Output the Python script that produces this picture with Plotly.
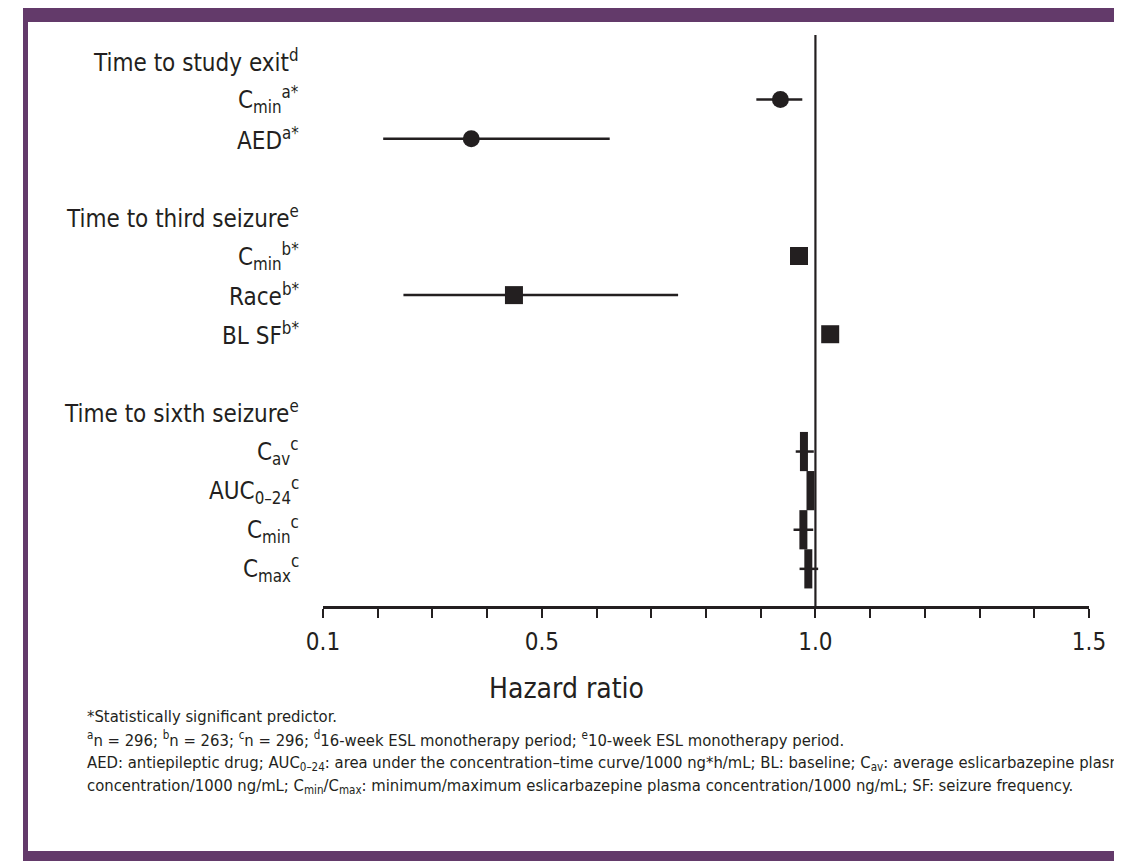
import plotly.graph_objects as go

# ---------------- data ----------------
row_labels = [
    "Time to study exit<sup>d</sup>",
    "C<sub>min</sub><sup>a*</sup>",
    "AED<sup>a*</sup>",
    "",
    "Time to third seizure<sup>e</sup>",
    "C<sub>min</sub><sup>b*</sup>",
    "Race<sup>b*</sup>",
    "BL SF<sup>b*</sup>",
    "",
    "Time to sixth seizure<sup>e</sup>",
    "C<sub>av</sub><sup>c</sup>",
    "AUC<sub>0–24</sub><sup>c</sup>",
    "C<sub>min</sub><sup>c</sup>",
    "C<sub>max</sub><sup>c</sup>",
]
header_rows = [0, 4, 9]

# Time to study exit (circles)
exit_rows = [1, 2]
exit_hr = [0.936, 0.371]
exit_lo = [0.892, 0.210]
exit_hi = [0.976, 0.624]

# Time to third seizure (squares)
third_rows = [5, 6, 7]
third_hr = [0.970, 0.449, 1.027]
third_lo = [0.962, 0.247, 1.019]
third_hi = [0.978, 0.749, 1.035]

# Time to sixth seizure (narrow bars)
sixth_rows = [10, 11, 12, 13]
sixth_hr = [0.979, 0.991, 0.978, 0.987]
sixth_lo = [0.964, 0.985, 0.960, 0.971]
sixth_hi = [0.997, 0.997, 0.996, 1.005]

reference_hr = 1.0
tick_vals = [0.1, 0.2, 0.3, 0.4, 0.5, 0.6, 0.7, 0.8, 0.9, 1.0, 1.1, 1.2, 1.3, 1.4, 1.5]
tick_text = ["0.1", "", "", "", "0.5", "", "", "", "", "1.0", "", "", "", "", "1.5"]
x_title = "Hazard ratio"

title_text = "between eslicarbazepine exposure measures and time to sixth seizure"
footnotes = [
    "*Statistically significant predictor.",
    "<sup>a</sup>n = 296; <sup>b</sup>n = 263; <sup>c</sup>n = 296; <sup>d</sup>16-week ESL monotherapy period; <sup>e</sup>10-week ESL monotherapy period.",
    "AED: antiepileptic drug; AUC<sub>0–24</sub>: area under the concentration–time curve/1000 ng*h/mL; BL: baseline; C<sub>av</sub>: average eslicarbazepine plasma",
    "concentration/1000 ng/mL; C<sub>min</sub>/C<sub>max</sub>: minimum/maximum eslicarbazepine plasma concentration/1000 ng/mL; SF: seizure frequency.",
]

# ---------------- styling ----------------
OFF = 8                       # page offset of the figure (body margin)
W, H = 1122 - OFF, 861 - OFF
# plot area in page pixels
PL, PR, PT, PB = 323, 1089, 35, 606
DARK = "#231f20"
PURPLE = "#633a6a"
FONT = "DejaVu Sans Condensed, DejaVu Sans, sans-serif"


def px_x(p):
    return (p - PL) / (PR - PL)


def px_y(p):
    return (PB - p) / (PB - PT)


def diffs(v, lo, hi):
    return [h - x for x, h in zip(v, hi)], [x - l for x, l in zip(v, lo)]


fig = go.Figure()

for rows, hr, lo, hi, marker in [
    (exit_rows, exit_hr, exit_lo, exit_hi, dict(symbol="circle", size=17, color=DARK)),
    (third_rows, third_hr, third_lo, third_hi, dict(symbol="square", size=18, color=DARK)),
    (sixth_rows, sixth_hr, sixth_lo, sixth_hi,
     dict(symbol="line-ns", size=28, color=DARK, line=dict(width=8, color=DARK))),
]:
    plus, minus = diffs(hr, lo, hi)
    fig.add_trace(go.Scatter(
        x=hr, y=rows, mode="markers", marker=marker,
        error_x=dict(type="data", symmetric=False, array=plus, arrayminus=minus,
                     color=DARK, thickness=2.5, width=0),
        showlegend=False, hoverinfo="skip",
    ))

# reference line at HR = 1
fig.add_shape(type="line", xref="x", yref="paper", x0=reference_hr, x1=reference_hr,
              y0=0, y1=1, line=dict(color=DARK, width=2.2))

# row labels
for i, lab in enumerate(row_labels):
    if not lab:
        continue
    fig.add_annotation(xref="paper", yref="y", x=px_x(301), y=i, text=lab,
                       xanchor="right", yanchor="middle", showarrow=False,
                       font=dict(family=FONT, size=24, color=DARK))

# x-axis title
fig.add_annotation(xref="paper", yref="paper", x=px_x(566), y=px_y(688), text=x_title,
                   xanchor="center", yanchor="middle", showarrow=False,
                   font=dict(family=FONT, size=28, color=DARK))

# footnotes
for txt, yy in zip(footnotes, [716, 739, 763, 787]):
    fig.add_annotation(xref="paper", yref="paper", x=px_x(85), y=px_y(yy), text=txt,
                       xanchor="left", yanchor="middle", showarrow=False, align="left",
                       font=dict(family=FONT, size=16.5, color=DARK))

# purple frame
fig.add_shape(type="rect", xref="paper", yref="paper", x0=px_x(23), x1=px_x(1140),
              y0=px_y(22), y1=px_y(-5), line=dict(width=0), fillcolor=PURPLE, layer="below")
fig.add_shape(type="rect", xref="paper", yref="paper", x0=px_x(23), x1=px_x(28),
              y0=px_y(870), y1=px_y(20), line=dict(width=0), fillcolor=PURPLE, layer="below")
fig.add_shape(type="rect", xref="paper", yref="paper", x0=px_x(23), x1=px_x(1140),
              y0=px_y(870), y1=px_y(851), line=dict(width=0), fillcolor=PURPLE, layer="below")
fig.add_annotation(xref="paper", yref="paper", x=px_x(38), y=px_y(4), text=title_text,
                   xanchor="left", yanchor="bottom", showarrow=False,
                   font=dict(family=FONT, size=26, color="white"))

fig.update_layout(
    width=W, height=H,
    margin=dict(l=PL - OFF, r=1122 - PR, t=PT - OFF, b=861 - PB, pad=0),
    paper_bgcolor="white", plot_bgcolor="white",
    font=dict(family=FONT, color=DARK),
    xaxis=dict(range=[0.1, 1.5], tickvals=tick_vals, ticktext=tick_text,
               showgrid=False, zeroline=False, showline=True, linecolor=DARK, linewidth=2.5,
               ticks="outside", ticklen=9, tickwidth=2, tickcolor=DARK,
               tickfont=dict(family=FONT, size=24, color=DARK), ticklabelstandoff=3),
    yaxis=dict(range=[13.95, -0.652], showgrid=False, zeroline=False, showline=False,
               showticklabels=False, ticks=""),
)

fig.write_html("out.html")
